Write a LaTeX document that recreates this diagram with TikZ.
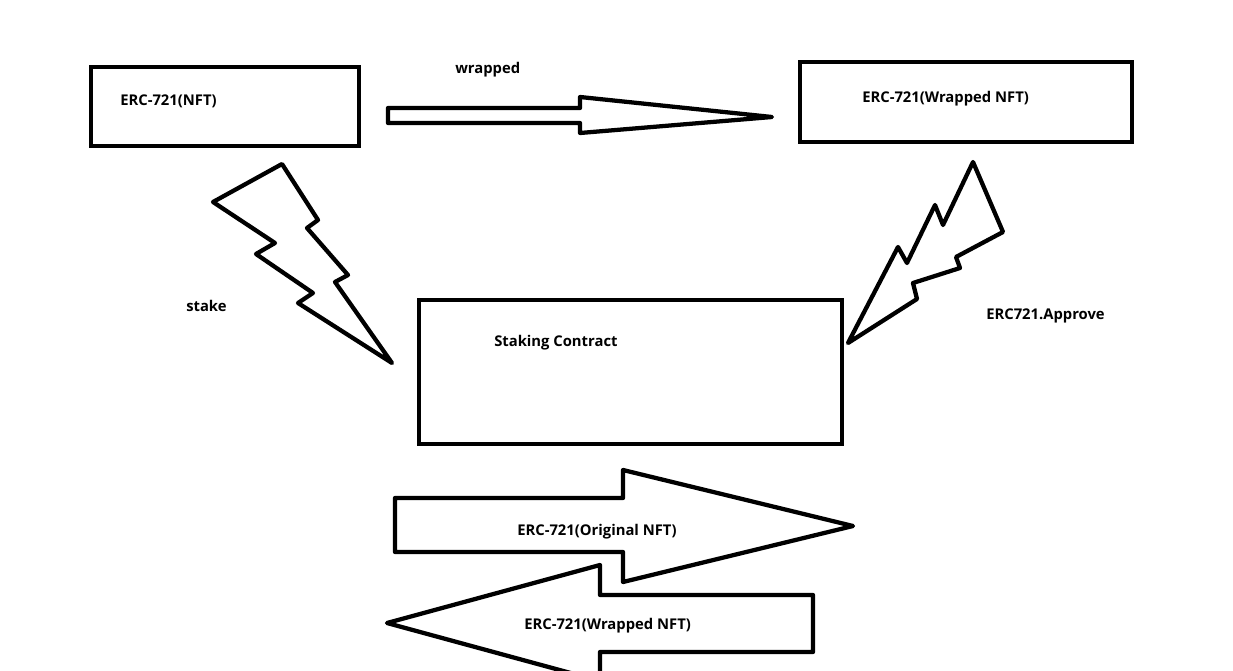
\documentclass[tikz,border=0pt]{standalone}
\usepackage{fontspec}
\setmainfont{Open Sans}
\begin{document}
\begin{tikzpicture}[x=0.75pt,y=-0.75pt,
  shape line/.style={draw=black,line width=3.2pt,line join=round,fill=white},
  boxline/.style={draw=black,line width=3.2pt,fill=white,inner sep=0pt},
  lbl/.style={font=\bfseries\fontsize{11.1pt}{13pt}\selectfont,inner sep=0pt,anchor=west}]
\useasboundingbox (0,0) rectangle (1233,671);
\fill[white] (0,0) rectangle (1233,671);
\begin{scope}
\clip (0,0) rectangle (1233,671);
% boxes
\node[boxline,minimum width=268*0.75pt,minimum height=79*0.75pt] (nft) at (225,106.5) {};
\node[boxline,minimum width=332*0.75pt,minimum height=80*0.75pt] (wnft) at (966,102) {};
\node[boxline,minimum width=423*0.75pt,minimum height=144*0.75pt] (stk) at (630.5,372) {};
% top arrow
\draw[shape line] (388,108) -- (580,108) -- (580,97) -- (772,117) -- (580,133) -- (580,123) -- (388,123) -- cycle;
% left lightning
\draw[shape line] (282,164) -- (213,202) -- (275,243) -- (256,254) -- (313,293) -- (298,303) -- (392,363) -- (335,282) -- (348,275) -- (307,228) -- (318,220) -- cycle;
% right lightning
\draw[shape line] (973,162) -- (1003,232) -- (956,257) -- (960,268) -- (913,283) -- (917,299) -- (848,343) -- (898,247) -- (907,263) -- (935,205) -- (943,225) -- cycle;
% bottom arrows
\draw[shape line] (395,498) -- (623,498) -- (623,470) -- (853,526) -- (623,582) -- (623,552) -- (395,552) -- cycle;
\draw[shape line] (387,623) -- (600,565) -- (600,595) -- (813,595) -- (813,652) -- (600,652) -- (600,681) -- cycle;
\end{scope}
% labels
\node[lbl] (t1) at (120,101) {ERC-721(NFT)};
\node[lbl] (t2) at (862,99) {ERC-721(Wrapped NFT)};
\node[lbl] (t3) at (455,70) {wrapped};
\node[lbl] (t4) at (186,306) {stake};
\node[lbl] (t5) at (494,343) {Staking Contract};
\node[lbl] (t6) at (986,316) {ERC721.Approve};
\node[lbl] (t7) at (517,532) {ERC-721(Original NFT)};
\node[lbl] (t8) at (524,626) {ERC-721(Wrapped NFT)};
\end{tikzpicture}
\end{document}
